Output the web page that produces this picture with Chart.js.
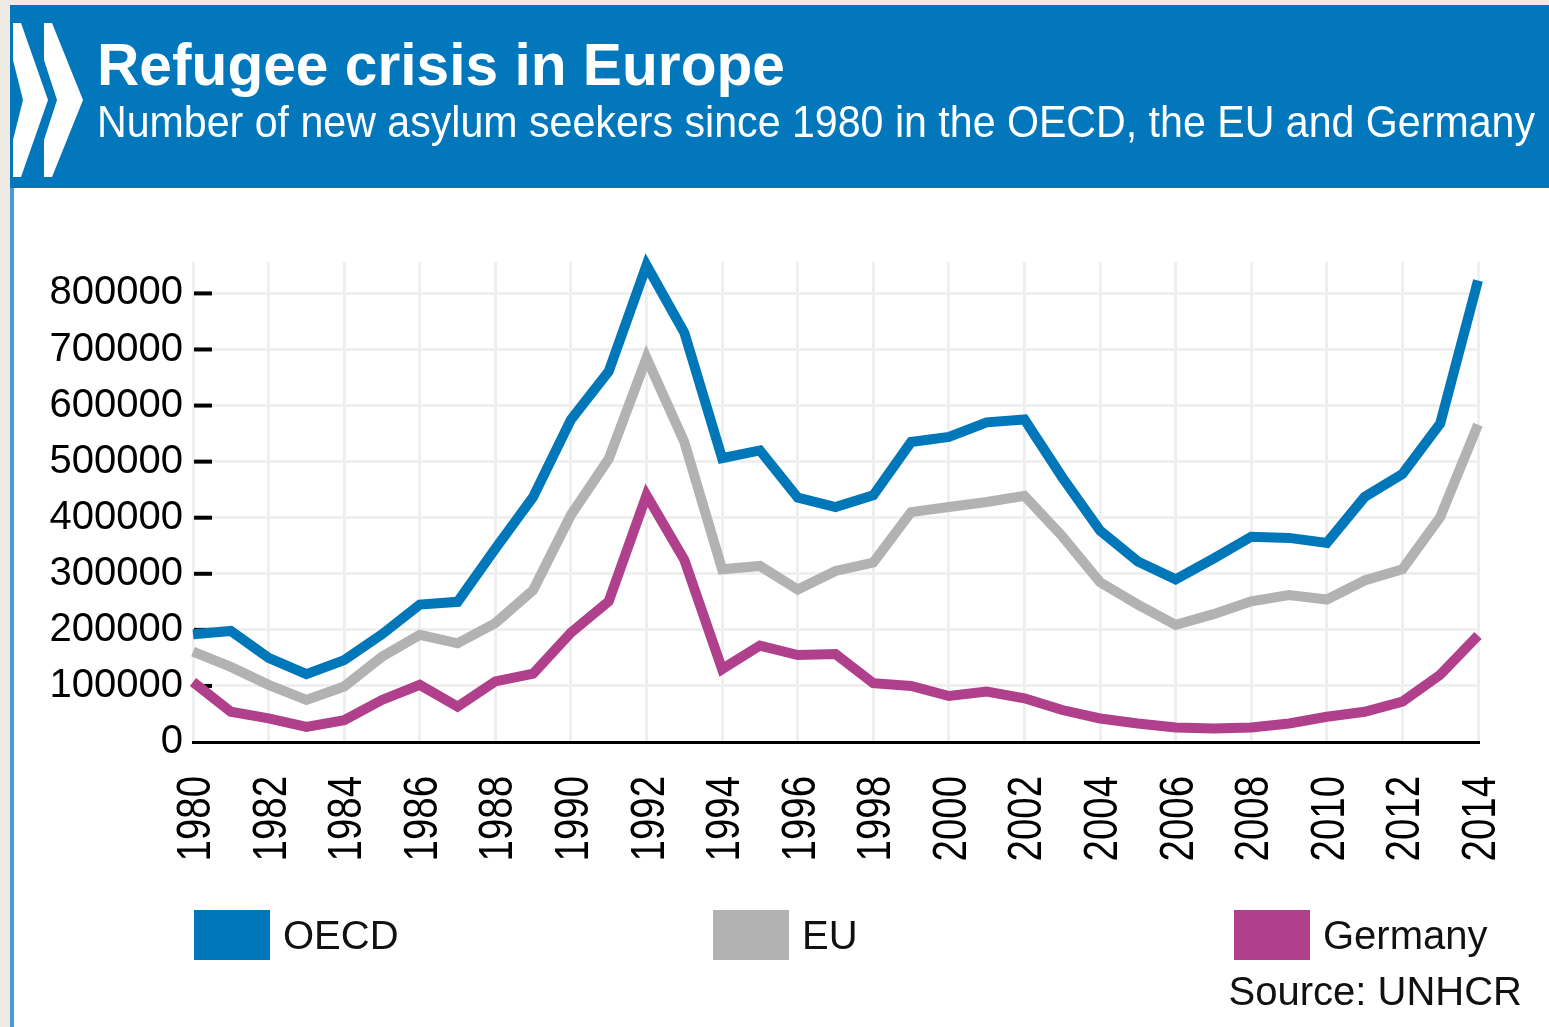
<!DOCTYPE html>
<html>
<head>
<meta charset="utf-8">
<title>Refugee crisis in Europe</title>
<script src="https://cdn.jsdelivr.net/npm/chart.js@4.4.1/dist/chart.umd.min.js"></script>
<style>
  html, body { margin: 0; padding: 0; background: #fff; }
  canvas { display: block; }
</style>
</head>
<body>
<canvas id="chart" width="1549" height="1027"></canvas>
<script>
// data
const years = ['1980', '1981', '1982', '1983', '1984', '1985', '1986', '1987', '1988', '1989',
  '1990', '1991', '1992', '1993', '1994', '1995', '1996', '1997', '1998', '1999',
  '2000', '2001', '2002', '2003', '2004', '2005', '2006', '2007', '2008', '2009',
  '2010', '2011', '2012', '2013', '2014'];

const oecd = [192000, 198000, 150000, 121000, 146000, 192000, 245000, 250000, 345000, 437000,
  575000, 661000, 850000, 730000, 506000, 520000, 436000, 419000, 440000, 535000,
  544000, 570000, 575000, 472000, 377000, 322000, 290000, 327000, 366000, 364000,
  355000, 437000, 478000, 568000, 823000];

const eu = [161000, 134000, 102000, 75000, 99000, 152000, 191000, 176000, 212000, 271000,
  405000, 505000, 685000, 535000, 308000, 314000, 272000, 305000, 320000, 410000,
  419000, 428000, 439000, 367000, 285000, 245000, 209000, 228000, 251000, 262000,
  254000, 288000, 308000, 401000, 566000];

const germany = [107000, 54000, 42000, 27000, 39000, 75000, 102000, 63000, 108000, 122000,
  195000, 251000, 440000, 325000, 130000, 172000, 155000, 157000, 105000, 100000,
  82000, 90000, 78000, 57000, 42000, 33000, 26000, 24000, 26000, 33000,
  45000, 54000, 72000, 120000, 190000];

const yTicks = [0, 100000, 200000, 300000, 400000, 500000, 600000, 700000, 800000];

const title = 'Refugee crisis in Europe';
const subtitle = 'Number of new asylum seekers since 1980 in the OECD, the EU and Germany';
const source = 'Source: UNHCR';

const BLUE = '#0077b9';
const GREY = '#b2b2b2';
const MAGENTA = '#b0408c';
const GRID = '#efefef';
const FONT = "'Liberation Sans', Arial, sans-serif";

// squeeze text so it fills exactly the given width
function fitText(c, text, x, y, width, font) {
  c.font = font;
  const w = c.measureText(text).width;
  c.save();
  c.translate(x, y);
  c.scale(width / w, 1);
  c.fillText(text, 0, 0);
  c.restore();
}

function chevron(c, x0, tip, t) {
  c.beginPath();
  c.moveTo(x0, 23);
  c.lineTo(x0 + 8, 23);
  c.lineTo(tip, 100);
  c.lineTo(x0 + 8, 177);
  c.lineTo(x0, 177);
  c.lineTo(x0, 140);
  c.lineTo(tip - t, 100);
  c.lineTo(x0, 60);
  c.closePath();
  c.fill();
}

const frame = {
  id: 'frame',
  beforeDraw(chart) {
    const c = chart.ctx, W = chart.width, H = chart.height;
    c.save();
    c.fillStyle = '#fff';
    c.fillRect(0, 0, W, H);
    c.fillStyle = '#eeebe4';
    c.fillRect(0, 0, 10, H);
    c.fillRect(0, 0, W, 5);
    c.fillStyle = '#4b9bd0';
    c.fillRect(10, 188, 4, H - 188);
    c.fillStyle = '#0277bb';
    c.fillRect(10, 5, W - 10, 183);
    c.fillStyle = '#fff';
    chevron(c, 13, 48, 25);
    chevron(c, 44, 83, 26);
    c.textBaseline = 'alphabetic';
    fitText(c, title, 97, 85, 688, 'bold 59px ' + FONT);
    fitText(c, subtitle, 97, 137, 1438, '45px ' + FONT);
    c.restore();
  }
};

// short black ticks drawn just inside the y axis
const tickMarks = {
  id: 'tickMarks',
  beforeDatasetsDraw(chart) {
    const y = chart.scales.y, c = chart.ctx, left = chart.chartArea.left;
    c.save();
    c.fillStyle = '#000';
    y.ticks.forEach(t => {
      if (t.value === 0) return;
      const py = y.getPixelForValue(t.value);
      c.fillRect(left + 1, py - 2, 18, 4);
    });
    c.restore();
  }
};

// year labels: condensed, vertical, reading upwards
const yearLabels = {
  id: 'yearLabels',
  afterDraw(chart) {
    const x = chart.scales.x, c = chart.ctx;
    const top = chart.chartArea.bottom + 34;
    c.save();
    c.fillStyle = '#000';
    c.font = '48px ' + FONT;
    c.textAlign = 'right';
    c.textBaseline = 'alphabetic';
    x.ticks.forEach((t, i) => {
      if (i % 2 !== 0) return;
      const label = x.getLabelForValue(t.value);
      const px = x.getPixelForTick(i);
      c.save();
      c.translate(px, top);
      c.rotate(-Math.PI / 2);
      c.scale(0.8, 1);
      c.fillText(label, 0, 17);
      c.restore();
    });
    c.restore();
  }
};

const legendBoxes = {
  id: 'legendBoxes',
  afterDraw(chart) {
    const c = chart.ctx;
    const xs = [194, 713, 1234];
    c.save();
    c.font = '40px ' + FONT;
    c.textBaseline = 'alphabetic';
    chart.data.datasets.forEach((ds, i) => {
      c.fillStyle = ds.borderColor;
      c.fillRect(xs[i], 910, 76, 50);
      c.fillStyle = '#111';
      c.fillText(ds.label, xs[i] + 89, 949);
    });
    c.textAlign = 'right';
    c.fillText(source, 1522, 1005);
    c.restore();
  }
};

new Chart(document.getElementById('chart'), {
  type: 'line',
  data: {
    labels: years,
    datasets: [
      { label: 'OECD', data: oecd, borderColor: BLUE, borderWidth: 10 },
      { label: 'EU', data: eu, borderColor: GREY, borderWidth: 10 },
      { label: 'Germany', data: germany, borderColor: MAGENTA, borderWidth: 10 }
    ]
  },
  options: {
    responsive: false,
    animation: false,
    layout: { padding: { top: 262, right: 71, bottom: 0, left: 0 } },
    elements: {
      line: { tension: 0, fill: false },
      point: { radius: 0, hoverRadius: 0 }
    },
    datasets: { line: { clip: false } },
    plugins: { legend: { display: false }, tooltip: { enabled: false } },
    scales: {
      x: {
        offset: false,
        grid: {
          color: ctx => ctx.index % 2 === 0 ? GRID : 'rgba(0,0,0,0)',
          lineWidth: 3,
          drawTicks: false
        },
        border: { display: true, color: '#000', width: 3 },
        ticks: {
          autoSkip: false,
          minRotation: 90,
          maxRotation: 90,
          padding: 33,
          color: 'rgba(0,0,0,0)',
          font: { family: FONT, size: 8 },
          callback(value, index) {
            return index % 2 === 0 ? this.getLabelForValue(value) : '';
          }
        },
        afterFit(scale) { scale.height = 285; }
      },
      y: {
        min: 0,
        max: 856000,
        grid: {
          color: ctx => (ctx.tick && ctx.tick.value === 0) ? 'rgba(0,0,0,0)' : GRID,
          lineWidth: 3,
          drawTicks: false
        },
        border: { display: false },
        afterBuildTicks(scale) { scale.ticks = yTicks.map(v => ({ value: v })); },
        ticks: {
          padding: 10,
          color: '#000',
          font: { family: FONT, size: 40 },
          callback: v => String(v)
        },
        afterFit(scale) { scale.width = 193; }
      }
    }
  },
  plugins: [frame, tickMarks, yearLabels, legendBoxes]
});
</script>
</body>
</html>
